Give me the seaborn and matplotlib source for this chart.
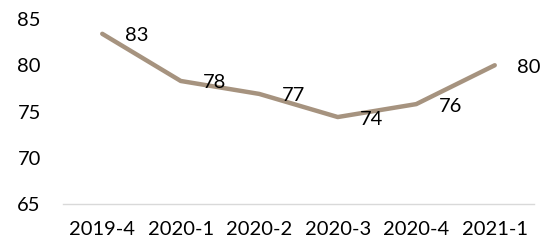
import pandas as pd
import matplotlib.pyplot as plt
import seaborn as sns

quarters = ['2019-4', '2020-1', '2020-2', '2020-3', '2020-4', '2021-1']
values = [83.4, 78.3, 76.9, 74.4, 75.8, 80.0]
labels = ['83', '78', '77', '74', '76', '80']

df = pd.DataFrame({'quarter': quarters, 'value': values})

sns.set_style('white')
plt.rcParams['font.family'] = ['Lato', 'DejaVu Sans']

fig = plt.figure(figsize=(5.5, 2.49), dpi=100)
ax = fig.add_axes([63 / 550, 1 - 204 / 249, 471 / 550, 185 / 249])

sns.lineplot(data=df, x='quarter', y='value', color='#A6937F', linewidth=3.2, ax=ax,
             solid_capstyle='round')

for i, (v, lab) in enumerate(zip(values, labels)):
    ax.annotate(lab, (i, v), xytext=(34 * 0.72, -2 * 0.72), textcoords='offset points',
                ha='center', va='center', fontsize=14.5, color='black')

ax.set_xlim(-0.5, 5.5)
ax.set_ylim(65, 85)
ax.set_yticks([65, 70, 75, 80, 85])
ax.set_xlabel('')
ax.set_ylabel('')
for s in ['top', 'right', 'left']:
    ax.spines[s].set_visible(False)
ax.spines['bottom'].set_color('#D9D9D9')
ax.spines['bottom'].set_linewidth(1)
ax.tick_params(axis='both', length=0, labelsize=14.5, colors='black')
ax.tick_params(axis='y', pad=16)
ax.tick_params(axis='x', pad=12)

plt.savefig('out.png', dpi=100)
